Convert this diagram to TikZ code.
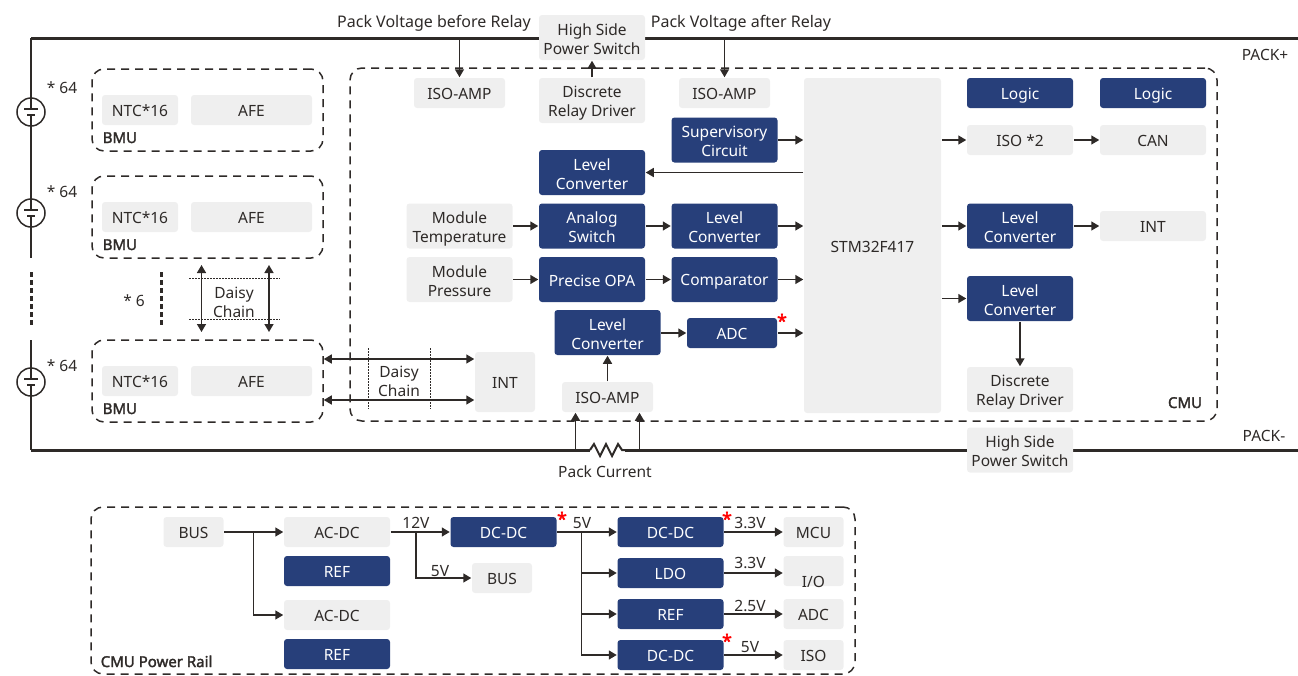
\documentclass[tikz,border=0pt]{standalone}
\usepackage{fontspec}
\setmainfont{Noto Sans}[BoldFont={Noto Sans},BoldFeatures={FakeBold=2}]
\usetikzlibrary{arrows.meta,positioning}

\definecolor{boxG}{HTML}{EFEFEF}
\definecolor{boxB}{HTML}{273F7A}
\definecolor{inkK}{HTML}{2E2A28}
\newcommand{\boxstrut}{\rule[-3pt]{0pt}{19pt}}
\newcommand{\twol}[2]{\rule{0pt}{17pt}#1\\#2}

\begin{document}
\begin{tikzpicture}[x=1pt,y=-1pt,on grid,color=inkK,line width=1.5pt,>={Triangle[length=8pt,width=9pt]},
    every node/.style={font=\fontsize{15.5}{19}\selectfont,text=inkK,align=center,inner sep=0pt,
      execute at begin node=\boxstrut,execute at end node=\boxstrut}]
  \tikzstyle{nodeG}=[fill=boxG,rounded corners=3pt,minimum width=106pt,minimum height=45pt]
  \tikzstyle{nodeB}=[nodeG,fill=boxB,text=white]
  \tikzstyle{nodeF}=[nodeG,minimum height=30pt]
  \tikzstyle{nodeH}=[nodeB,minimum height=30pt]
  \tikzstyle{nodeS}=[nodeF,minimum width=60pt]
  \tikzstyle{frame}=[draw,dashed,dash pattern=on 8pt off 6pt,rounded corners=12pt]
  \tikzstyle{rail}=[line width=3pt]
  \tikzstyle{batt}=[circle,draw,minimum size=28pt]
  \tikzstyle{tagB}=[font=\fontsize{15}{19}\selectfont\bfseries]
  \tikzstyle{tagL}=[font=\fontsize{16}{19}\selectfont]
  \tikzstyle{star}=[text=red,font=\fontsize{18}{20}\selectfont\bfseries]
  \tikzstyle{dots}=[line width=3pt,dash pattern=on 5pt off 3pt]
  \tikzstyle{fine}=[line width=1pt,dash pattern=on 1.5pt off 1.5pt]
  \useasboundingbox (0,0) rectangle (1298,675);

  % Pack rails
  \coordinate (pack_tl) at (31,38);
  \coordinate (pack_tr) at (1298,38);
  \coordinate (pack_bl) at (31,450);
  \coordinate (pack_br) at (1298,450);
  \coordinate (rs_l) at (590,450);
  \coordinate (rs_r) at (625,450);
  \draw[rail] (pack_tl) -- (pack_tr);
  \draw[rail] (pack_bl) -- (rs_l);
  \draw[rail] (rs_r) -- (pack_br);
  \draw[line width=2pt] (rs_l) -- ++(4,-6) -- ++(6,12) -- ++(6,-12) -- ++(6,12) -- ++(6,-12) -- ++(4,6) -- (rs_r);

  % Containers
  \node[frame,minimum width=231pt,minimum height=82pt] (bmu_a) at (207.5,110) {};
  \node[frame,minimum width=231pt,minimum height=82pt] (bmu_b) at (207.5,217) {};
  \node[frame,minimum width=231pt,minimum height=82pt] (bmu_c) at (207.5,381) {};
  \node[frame,minimum width=867pt,minimum height=353pt] (cmu) at (783.5,244.5) {};
  \node[frame,minimum width=764pt,minimum height=167pt] (pwr) at (473,590.5) {};

  % Batteries
  \node[batt] (bat_a) at (31,112) {};
  \node[batt] (bat_b) at (31,213) {};
  \node[batt] (bat_c) at (31,382) {};
  \coordinate (left_a) at (31,258);
  \coordinate (left_b) at (31,272);
  \coordinate (left_c) at (31,325);
  \coordinate (left_d) at (31,340);
  \coordinate (dots_a) at (161,272);
  \coordinate (dots_b) at (161,325);
  \draw (pack_tl) -- (bat_a.north);
  \draw (bat_a.south) -- (bat_b.north);
  \draw (bat_b.south) -- (left_a);
  \draw (left_d) -- (bat_c.north);
  \draw (bat_c.south) -- (pack_bl);
  \draw[dots] (left_b) -- (left_c);
  \draw[dots] (dots_a) -- (dots_b);
  \foreach \b in {bat_a,bat_b,bat_c} {
    \draw ([xshift=-7pt,yshift=3pt]\b.center) -- ([xshift=7pt,yshift=3pt]\b.center);
    \draw[line width=2.5pt] ([xshift=-4pt,yshift=-3pt]\b.center) -- ([xshift=4pt,yshift=-3pt]\b.center);
    \draw (\b.north) -- ([yshift=3pt]\b.center);
    \draw (\b.south) -- ([yshift=-3pt]\b.center);
  }

  % BMU nodes
  \node[nodeF,minimum width=76pt]  (ntc_a) at (140,110) {NTC*16};
  \node[nodeF,minimum width=121pt] (afe_a) at (251.5,110) {AFE};
  \node[nodeF,minimum width=76pt]  (ntc_b) [below=107pt of ntc_a] {NTC*16};
  \node[nodeF,minimum width=121pt] (afe_b) [below=107pt of afe_a] {AFE};
  \node[nodeF,minimum width=76pt]  (ntc_c) [below=164pt of ntc_b] {NTC*16};
  \node[nodeF,minimum width=121pt] (afe_c) [below=164pt of afe_b] {AFE};
  \node[tagB,anchor=west] (tag_a) at (102,136.5) {BMU};
  \node[tagB,anchor=west] (tag_b) at (102,243.5) {BMU};
  \node[tagB,anchor=west] (tag_c) at (102,407.5) {BMU};
  \node (cnt_a) at (62,87)  {* 64};
  \node (cnt_b) at (62,191) {* 64};
  \node (cnt_c) at (62,365) {* 64};
  \node (cnt_d) at (134,300) {* 6};

  % Daisy chains
  \node (dc_a) at (234,300.5) {\twol{Daisy}{Chain}};
  \node (dc_b) at (399,379.5) {\twol{Daisy}{Chain}};
  \coordinate (up_a) at (201.5,265);
  \coordinate (dn_a) at (201.5,332);
  \coordinate (up_b) at (269,265);
  \coordinate (dn_b) at (269,332);
  \draw[<->] (up_a) -- (dn_a);
  \draw[<->] (up_b) -- (dn_b);
  \draw[fine] (189,278) coordinate (dt_a) -- (280,278) coordinate (dt_b);
  \draw[fine] (189,319.5) coordinate (dt_c) -- (280,319.5) coordinate (dt_d);
  \draw[fine] (368,348) coordinate (dt_e) -- (368,409) coordinate (dt_f);
  \draw[fine] (430,348) coordinate (dt_g) -- (430,409) coordinate (dt_h);

  % CMU left column
  \node[nodeF,minimum width=91pt] (iso_a) at (459.5,93) {ISO-AMP};
  \node[nodeG] (hs_a)  at (592,37.5) {\twol{High Side}{Power Switch}};
  \node[nodeG] (drv_a) [below=63pt of hs_a] {\twol{Discrete}{Relay Driver}};
  \node[nodeF,minimum width=91pt] (iso_b) at (724.5,93) {ISO-AMP};
  \node[nodeB] (sup) at (724.5,140) {\twol{Supervisory}{Circuit}};
  \node[nodeB] (lc_a) at (592,172.5) {\twol{Level}{Converter}};
  \node[nodeB] (ana)  at (592,226)   {\twol{Analog}{Switch}};
  \node[nodeB] (lc_b) [right=132.5pt of ana] {\twol{Level}{Converter}};
  \node[nodeG] (tmp)  [left=132.5pt of ana]  {\twol{Module}{Temperature}};
  \node[nodeB] (opa)  [below=53.5pt of ana]  {Precise OPA};
  \node[nodeB] (cmp)  [right=132.5pt of opa] {Comparator};
  \node[nodeG] (prs)  [left=132.5pt of opa]  {\twol{Module}{Pressure}};
  \node[nodeB] (lc_c) at (607.5,332.5) {\twol{Level}{Converter}};
  \node[nodeH,minimum width=90pt] (adc) at (732,333) {ADC};
  \node[nodeF,minimum width=91pt] (iso_c) at (607.5,397) {ISO-AMP};
  \node[nodeF,minimum width=60pt,minimum height=60pt] (int_a) at (505,382) {INT};

  % MCU and right side
  \node[nodeG,minimum width=137pt,minimum height=335pt] (stm) at (872.5,245.5) {STM32F417};
  \node[nodeH] (lg_a) at (1020,93) {Logic};
  \node[nodeH] (lg_b) [right=133pt of lg_a] {Logic};
  \node[nodeF] (iso_d) [below=47pt of lg_a] {ISO *2};
  \node[nodeF] (can)   [below=47pt of lg_b] {CAN};
  \node[nodeB] (lc_d) at (1020,226) {\twol{Level}{Converter}};
  \node[nodeF] (int_b) [right=133pt of lc_d] {INT};
  \node[nodeB] (lc_e) [below=72.5pt of lc_d] {\twol{Level}{Converter}};
  \node[nodeG] (drv_b) [below=91pt of lc_e] {\twol{Discrete}{Relay Driver}};
  \node[nodeG] (hs_b)  [below=60.5pt of drv_b] {\twol{High Side}{Power Switch}};

  % Texts on the rails
  \node[tagL] (lb_a) at (434,21.5) {Pack Voltage before Relay};
  \node[tagL] (lb_b) at (741,21.5) {Pack Voltage after Relay};
  \node (lb_c) at (605,470.5) {Pack Current};
  \node (lb_d) at (1265,53.5) {PACK+};
  \node (lb_e) at (1264,434.5) {PACK-};
  \node[tagB] (tag_d) at (1185,401.5) {CMU};
  \node[star] (st_a) at (782,321) {*};

  \coordinate (tap_a) at (459.5,38);
  \coordinate (tap_b) at (724.5,38);
  \coordinate (tap_c) at (575.5,450);
  \coordinate (tap_d) at (639.5,450);
  \path[->] (tap_a) edge (iso_a);
  \path[->] (tap_b) edge (iso_b);
  \path[->] (drv_a) edge (hs_a);
  \draw[->] (tap_c) -- (tap_c |- iso_c.south);
  \draw[->] (tap_d) -- (tap_d |- iso_c.south);
  \draw[<->] (bmu_c.east |- 0,359) coordinate (bm_a) -- (bm_a -| int_a.west);
  \draw[<->] (bmu_c.east |- 0,400) coordinate (bm_b) -- (bm_b -| int_a.west);

  \path[->] (tmp) edge (ana);
  \path[->] (ana) edge (lc_b);
  \path[->] (prs) edge (opa);
  \path[->] (opa) edge (cmp);
  \path[->] (iso_c) edge (lc_c);
  \draw[->] (lc_c.east |- adc) -- (adc);
  \draw[->] (sup) -- (sup -| stm.west);
  \draw[->] (stm.west |- lc_a) -- (lc_a);
  \draw[->] (lc_b) -- (lc_b -| stm.west);
  \draw[->] (cmp) -- (cmp -| stm.west);
  \draw[->] (adc) -- (adc -| stm.west);
  \draw[->] (stm.east |- iso_d) -- (iso_d);
  \draw[->] (stm.east |- lc_d) -- (lc_d);
  \draw[->] (stm.east |- lc_e) -- (lc_e);
  \path[->] (iso_d) edge (can);
  \path[->] (lc_d) edge (int_b);
  \path[->] (lc_e) edge (drv_b);

  % Power rail
  \node[nodeS] (bus_a) at (193.5,532) {BUS};
  \node[nodeF] (ac_a) at (337,532) {AC-DC};
  \node[nodeH] (rf_a) [below=39pt of ac_a] {REF};
  \node[nodeF] (ac_b) [below=83pt of ac_a] {AC-DC};
  \node[nodeH] (rf_b) [below=39pt of ac_b] {REF};
  \node[nodeH] (dc_c) at (503.5,532) {DC-DC};
  \node[nodeS] (bus_b) at (502,578) {BUS};
  \node[nodeH] (dc_d) at (670.5,532) {DC-DC};
  \node[nodeH] (ldo)  [below=41pt of dc_d] {LDO};
  \node[nodeH] (rf_c) [below=41pt of ldo]  {REF};
  \node[nodeH] (dc_e) [below=41pt of rf_c] {DC-DC};
  \node[nodeS] (mcu)  at (813.5,532) {MCU};
  \node[nodeS] (io) at (813.5,571) {\smash{\raisebox{-10pt}{I/O}}};
  \node[nodeS] (adc_b) at (813.5,614) {ADC};
  \node[nodeS] (iso_e) at (813.5,655) {ISO};
  \node[tagB,anchor=west] (tag_e) at (100,660.5) {CMU Power Rail};

  \path[->] (bus_a) edge (ac_a);
  \path[->] (ac_a) edge (dc_c);
  \path[->] (dc_c) edge (dc_d);
  \path[->] (dc_d) edge (mcu);
  \draw[->] (ldo) -- (ldo -| io.west);
  \path[->] (rf_c) edge (adc_b);
  \path[->] (dc_e) edge (iso_e);
  \coordinate (br_a) at (253.5,532);
  \coordinate (br_b) at (416,532);
  \coordinate (br_c) at (581.5,532);
  \draw[->] (br_a) |- (ac_b);
  \draw[->] (br_b) |- (bus_b);
  \draw[->] (br_c) |- (ldo);
  \draw[->] (br_c) |- (rf_c);
  \draw[->] (br_c) |- (dc_e);

  \node (v_a) at (416,521.5) {12V};
  \node (v_b) at (582,521.5) {5V};
  \node (v_c) at (440,569.5) {5V};
  \node (v_d) at (750,521.5) {3.3V};
  \node (v_e) at (750,561.5) {3.3V};
  \node (v_f) at (750,604.5) {2.5V};
  \node (v_g) at (750,645.5) {5V};
  \node[star] (st_b) at (562,519) {*};
  \node[star] (st_c) at (727,519) {*};
  \node[star] (st_d) at (727,641) {*};
\end{tikzpicture}
\end{document}
